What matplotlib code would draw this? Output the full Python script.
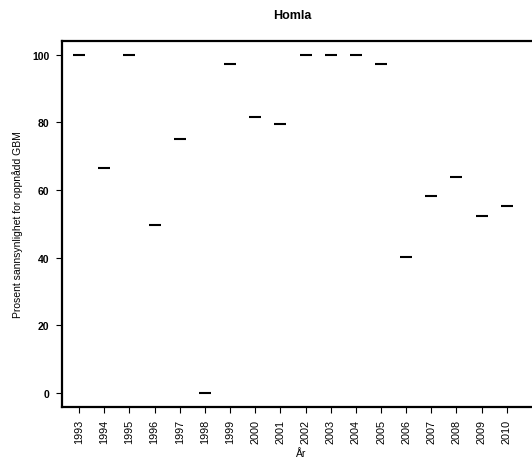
import matplotlib
matplotlib.use('Agg')
import matplotlib.pyplot as plt

# data
years = list(range(1993, 2011))
prosent = [100, 66.4, 100, 49.8, 75.2, 0, 97.2, 81.7, 79.4,
           100, 100, 100, 97.2, 40.1, 58.2, 63.8, 52.3, 55.3]
yticks = [0, 20, 40, 60, 80, 100]

plt.rcParams['font.family'] = ['Liberation Sans', 'DejaVu Sans']

fig = plt.figure(figsize=(5.32, 4.64), dpi=100)
# axes reaches past the right edge, as in the original
ax = fig.add_axes([62 / 532, 1 - 407.7 / 464, 478 / 532, (407.7 - 42) / 464])

ax.plot(years, prosent, linestyle='none', marker='_', markersize=8,
        markeredgewidth=1.5, color='black')

ax.set_xlim(1992.32, 2011.32)
ax.set_ylim(-4.1, 104.1)

ax.set_xticks(years)
ax.set_xticklabels([str(y) for y in years], rotation=90, fontsize=7.8)
ax.set_yticks(yticks)
ax.set_yticklabels([str(v) for v in yticks], fontsize=7.5, fontweight='bold')

ax.tick_params(axis='both', direction='out', length=4, width=0.8, color='black')
ax.tick_params(axis='x', pad=5)
ax.tick_params(axis='y', pad=5)

for s in ax.spines.values():
    s.set_linewidth(1.6)

ax.set_xlabel('År', fontsize=7.5, labelpad=3)
ax.set_ylabel('Prosent sannsynlighet for oppnådd GBM', fontsize=7.5, labelpad=7)
fig.text(292 / 532, 1 - 16 / 464, 'Homla', ha='center', va='center',
         fontsize=9, fontweight='bold')

fig.savefig('out.png', dpi=100)
